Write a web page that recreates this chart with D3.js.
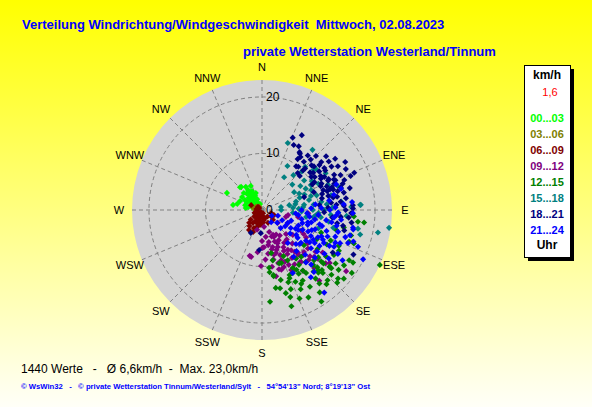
<!DOCTYPE html>
<html lang="de">
<head>
<meta charset="utf-8">
<title>Windrichtung / Windgeschwindigkeit</title>
<script src="https://cdn.jsdelivr.net/npm/d3@7"></script>
<style>
  body { margin: 0; }
  text { font-family: "Liberation Sans", Arial, sans-serif; white-space: pre; }
</style>
</head>
<body>
<div id="chart"></div>
<script>
// Werte: [Richtung in Grad, Geschwindigkeit km/h]
var h00_03 = [[296,6.9],[318,5.5],[325,5.0],[335,4.7],[332,3.8],[313,4.4],[284,4.5],[300,3.5],[320,3.0],[321,2.3],[319,1.6],[315,0.8],[282,2.5],[283,1.6],[303,4.2],[316,5.6],[326,3.8],[323,2.7],[277,2.9],[287,1.8],[323,1.8],[319,3.5],[335,2.9],[298,3.0],[336,2.1],[342,1.1],[286,3.1],[302,2.3],[292,4.2],[280,5.2],[325,4.3],[310,2.6],[330,3.3],[308,1.9],[317,4.0],[295,2.0],[340,3.2],[312,3.2],[314,2.2],[322,2.4],[328,2.0],[305,2.8],[318,3.0],[326,2.8],[312,1.4],[300,1.6],[332,1.4]];
var h03_06 = [[300,1.2],[280,1.5],[260,1.0],[320,0.8],[240,1.3]];
var h06_09 = [[162,0.6],[201,1.5],[215,2.8],[213,4.2],[204,3.5],[169,1.8],[132,2.6],[113,2.3],[155,2.5],[294,2.1],[304,0.6],[108,1.7],[307,0.9],[207,0.4],[202,4.2],[220,1.2],[190,2.0],[230,1.8],[250,1.4],[170,1.2],[240,0.8],[210,2.2],[195,3.0],[225,3.2],[185,1.0],[280,1.0],[140,1.5],[125,2.0],[200,2.5],[215,1.6],[185,2.6],[175,2.2],[205,1.0],[160,1.5],[230,2.6],[218,3.6],[195,1.6]];
var h09_12 = [[173,3.0],[156,4.8],[151,6.1],[168,5.8],[157,7.1],[147,8.4],[141,10.2],[135,10.5],[159,9.5],[154,10.8],[143,11.5],[137,12.1],[131,13.1],[193,8.5],[181,9.9],[162,11.1],[165,8.2],[129,3.6],[106,4.4],[129,7.0],[126,10.0],[130,14.7],[179,6.7],[143,7.1],[162,4.1],[195,8.4],[126,18.4],[170,6.3],[156,5.2],[146,7.0],[162,8.0],[140,9.9],[130,10.6],[132,12.4],[125,13.1],[117,5.1],[101,6.5],[94,8.2],[164,10.9],[159,10.8],[141,16.1],[144,11.4],[177,6.6],[194,3.6],[101,4.7],[150,9.0],[138,8.0],[145,5.5],[160,7.5],[152,12.0],[120,8.5],[135,6.0],[148,10.0],[167,9.0],[155,6.5],[158,6.0],[164,6.8],[150,7.6],[144,8.8],[152,8.2],[158,8.6],[166,7.2],[172,7.8],[176,8.8],[170,10.2],[163,9.8],[156,10.0],[149,11.2],[142,9.4],[137,10.8],[134,11.8],[128,12.0],[122,9.2],[118,7.8],[140,6.8],[150,5.0],[160,5.0],[172,4.8],[180,5.5],[186,7.5],[154,11.8],[146,13.0],[138,13.8],[168,12.0],[128,15.2]];
var h12_15 = [[175,16.3],[164,15.3],[162,16.2],[160,14.9],[154,15.6],[150,14.4],[160,13.6],[170,11.9],[173,11.1],[139,17.4],[147,19.3],[132,18.1],[130,18.9],[125,19.4],[120,18.6],[136,15.5],[130,15.6],[136,14.1],[137,13.3],[160,10.0],[157,12.5],[152,11.6],[146,12.9],[137,14.6],[131,14.4],[173,10.3],[170,11.7],[162,9.9],[153,10.0],[146,11.7],[154,12.4],[138,14.9],[130,16.0],[126,16.1],[118,15.4],[110,17.3],[106,16.4],[97,17.1],[97,18.2],[115,23.0],[120,17.8],[134,18.5],[137,17.0],[130,9.7],[111,11.2],[114,13.3],[105,13.6],[102,14.8],[94,16.3],[110,16.4],[134,12.8],[131,13.9],[168,7.8],[168,9.1],[145,10.5],[140,12.0],[150,13.0],[125,12.0],[118,11.0],[142,16.5],[155,9.0],[150,12.2],[145,13.6],[140,14.2],[135,15.0],[130,13.0],[126,14.0],[122,15.0],[142,15.4],[148,16.0],[155,14.0],[158,13.0],[152,14.8],[133,16.8],[128,17.2],[124,17.5],[118,13.0],[115,15.0],[140,10.8],[165,12.8],[167,14.2],[157,17.0],[145,17.8],[152,17.5],[163,17.8],[170,14.0]];
var h15_18 = [[21,12.7],[40,13.9],[34,7.0],[42,8.3],[55,9.1],[52,11.6],[69,12.5],[87,17.4],[84,14.1],[61,6.5],[81,3.4],[83,7.5],[88,15.8],[78,12.5],[53,12.0],[86,7.3],[80,4.9],[63,9.7],[87,17.5],[101,20.9],[98,22.7],[90,3.4],[94,12.2],[99,7.9],[101,17.3],[97,10.5],[120,15.5],[104,17.9],[70,8.0],[75,10.0],[65,11.0],[90,9.0],[80,6.0],[95,5.5],[60,13.0],[72,14.0],[85,11.5],[92,13.5],[66,7.2],[72,7.0],[78,8.5],[84,9.2],[88,6.5],[76,6.2],[68,9.4],[58,8.0],[50,7.0],[46,9.8],[60,10.2],[82,10.6],[88,12.5],[93,10.0],[98,9.2],[86,5.5],[74,9.0],[64,8.6],[45,10.8],[30,9.0],[92,7.0],[96,9.5],[90,11.0],[100,12.0],[104,13.0],[108,10.5],[94,15.0]];
var h18_21 = [[23,13.9],[26,12.8],[33,12.2],[36,11.6],[51,13.5],[54,14.6],[52,12.9],[68,17.6],[41,11.3],[46,10.1],[44,9.1],[56,10.5],[71,9.7],[72,11.4],[74,13.1],[74,14.5],[84,12.3],[87,14.5],[89,16.1],[95,15.4],[88,11.7],[73,7.8],[56,13.3],[46,10.6],[54,11.2],[87,16.1],[101,14.6],[121,14.6],[184,7.1],[206,4.5],[183,4.1],[116,18.0],[60,12.0],[65,13.0],[62,10.5],[68,14.0],[58,14.5],[75,11.0],[78,12.0],[80,13.5],[70,15.5],[48,9.0],[40,10.0],[35,11.0],[30,13.0],[45,13.5],[50,12.0],[66,11.5],[72,13.0],[82,15.0],[76,16.0],[64,16.5],[92,11.0],[95,14.0],[60,17.0],[28,15.0],[62,12.5],[66,12.8],[70,12.2],[74,12.0],[68,11.2],[64,14.2],[70,13.6],[76,13.8],[78,14.8],[72,15.0],[66,15.2],[60,15.5],[56,12.2],[58,11.0],[52,10.8],[48,11.8],[44,12.4],[40,12.6],[38,9.8],[34,12.0],[62,11.8],[67,13.8],[73,12.6],[80,12.8],[84,14.0],[86,13.2],[90,14.8],[92,15.8],[69,16.8],[55,15.8],[50,14.8],[58,13.2],[63,10.0],[85,10.2],[79,10.8],[96,12.5],[98,16.0],[100,13.5],[104,15.0]];
var h21_24 = [[143,2.7],[134,4.6],[117,5.1],[119,7.3],[105,8.4],[116,11.0],[118,12.4],[117,14.3],[111,16.3],[101,16.4],[97,14.1],[140,12.1],[144,14.7],[154,12.4],[116,19.9],[92,16.1],[130,9.0],[142,7.4],[143,18.3],[140,14.3],[71,13.9],[109,17.1],[88,8.7],[110,10.0],[115,9.0],[120,10.5],[105,11.0],[112,12.5],[125,9.5],[100,9.5],[108,7.5],[122,12.0],[128,11.0],[118,13.5],[106,14.0],[100,12.5],[95,10.0],[113,15.0],[125,13.5],[132,9.0],[130,6.5],[122,6.0],[110,5.5],[98,6.5],[116,8.0],[104,9.0],[128,8.0],[136,11.0],[120,15.5],[108,15.5],[102,16.5],[120,2.0],[130,3.5],[110,3.0],[112,9.5],[118,9.8],[124,10.2],[114,11.5],[108,12.0],[104,10.5],[99,11.5],[96,12.8],[102,13.5],[110,13.8],[116,12.0],[122,11.0],[127,12.2],[132,12.6],[126,14.6],[114,14.2],[108,8.5],[113,7.0],[119,6.8],[126,7.5],[135,8.5],[140,9.5],[117,4.0],[125,5.0],[103,7.2],[98,8.5],[94,13.2],[106,16.2],[111,18.2],[122,16.8],[146,10.0],[138,13.0],[88,10.5],[90,12.0],[92,13.5],[86,14.5],[84,9.5],[90,7.0],[94,8.0],[96,6.0],[88,13.0],[82,12.0],[78,13.0],[75,14.5],[85,16.0]];

var series = [h00_03, h03_06, h06_09, h09_12, h12_15, h15_18, h18_21, h21_24];
var legendLabels = ["00...03","03...06","06...09","09...12","12...15","15...18","18...21","21...24"];
var seriesColors = ["#00ff00","#808000","#800000","#800080","#008000","#008080","#000080","#0000ff"];
var dirLabels = ["N","NNE","NE","ENE","E","ESE","SE","SSE","S","SSW","SW","WSW","W","WNW","NW","NNW"];
var ringValues = [10, 20];
var ringLabels = [0, 10, 20];
var maxSpeed = 23.0;

var width = 592, height = 407;
var cx = 262, cy = 210, radius = 130;

var svg = d3.select("#chart").append("svg")
    .attr("width", width)
    .attr("height", height);

// Hintergrund: gelb nach fast weiss
var grad = svg.append("defs").append("linearGradient")
    .attr("id", "bg").attr("x1", 0).attr("y1", 0).attr("x2", 0).attr("y2", 1);
grad.append("stop").attr("offset", "0%").attr("stop-color", "#ffff00");
grad.append("stop").attr("offset", "100%").attr("stop-color", "#fffff8");
svg.append("rect").attr("width", width).attr("height", height).attr("fill", "url(#bg)");

// Titel
svg.append("text")
    .attr("x", 22).attr("y", 29)
    .attr("font-size", 13).attr("font-weight", "bold").attr("fill", "#0000ff")
    .text("Verteilung Windrichtung/Windgeschwindigkeit  Mittwoch, 02.08.2023");
svg.append("text")
    .attr("x", 243).attr("y", 56)
    .attr("font-size", 13).attr("font-weight", "bold").attr("fill", "#0000ff")
    .text("private Wetterstation Westerland/Tinnum");

var r = d3.scaleLinear().domain([0, maxSpeed]).range([0, radius]);
var angle = d3.scaleLinear().domain([0, 360]).range([0, 2 * Math.PI]);

var g = svg.append("g").attr("transform", "translate(" + cx + "," + cy + ")");

g.append("circle").attr("r", radius).attr("fill", "#d4d4d4");

// Gitter
g.selectAll(".ring")
    .data(ringValues)
    .join("circle")
    .attr("class", "ring")
    .attr("r", d => r(d))
    .attr("fill", "none")
    .attr("stroke", "#808080")
    .attr("stroke-dasharray", "4,3");

g.selectAll(".spoke")
    .data(dirLabels)
    .join("line")
    .attr("class", "spoke")
    .attr("x1", 0).attr("y1", 0)
    .attr("x2", (d, i) => radius * Math.sin(angle(i * 22.5)))
    .attr("y2", (d, i) => -radius * Math.cos(angle(i * 22.5)))
    .attr("stroke", "#808080")
    .attr("stroke-dasharray", "4,3");

// Messpunkte
var diamond = d3.symbol().type(d3.symbolDiamond2).size(24);
series.forEach(function(data, k) {
    g.append("g").selectAll("path")
        .data(data)
        .join("path")
        .attr("d", diamond)
        .attr("transform", d => "translate(" + (r(d[1]) * Math.sin(angle(d[0]))) + "," + (-r(d[1]) * Math.cos(angle(d[0]))) + ")")
        .attr("fill", seriesColors[k]);
});

g.selectAll(".rlabel")
    .data(ringLabels)
    .join("text")
    .attr("class", "rlabel")
    .attr("x", 4)
    .attr("y", d => -r(d) + 4)
    .attr("font-size", 12)
    .attr("fill", "#000")
    .text(d => d);

g.selectAll(".dlabel")
    .data(dirLabels)
    .join("text")
    .attr("class", "dlabel")
    .attr("x", (d, i) => 143 * Math.sin(angle(i * 22.5)))
    .attr("y", (d, i) => -143 * Math.cos(angle(i * 22.5)))
    .attr("dy", "0.35em")
    .attr("text-anchor", "middle")
    .attr("font-size", 11)
    .attr("fill", "#000")
    .text(d => d);

// Legende
svg.append("rect").attr("x", 528).attr("y", 69).attr("width", 46).attr("height", 192).attr("fill", "#000");
svg.append("rect").attr("x", 524.5).attr("y", 65.5).attr("width", 46).attr("height", 192)
    .attr("fill", "#fff").attr("stroke", "#000");
svg.append("text").attr("x", 547).attr("y", 79).attr("text-anchor", "middle")
    .attr("font-size", 12).attr("font-weight", "bold").text("km/h");
svg.append("text").attr("x", 550).attr("y", 96).attr("text-anchor", "middle")
    .attr("font-size", 11).attr("fill", "#ff0000").text("1,6");
svg.selectAll(".leg")
    .data(legendLabels)
    .join("text")
    .attr("class", "leg")
    .attr("x", 547)
    .attr("y", (d, i) => 122 + i * 16)
    .attr("text-anchor", "middle")
    .attr("font-size", 11).attr("font-weight", "bold")
    .attr("fill", (d, i) => seriesColors[i])
    .text(d => d);
svg.append("text").attr("x", 547).attr("y", 249).attr("text-anchor", "middle")
    .attr("font-size", 12).attr("font-weight", "bold").text("Uhr");

// Fusszeilen
svg.append("text").attr("x", 21).attr("y", 373)
    .attr("font-size", 12).attr("fill", "#000")
    .text("1440 Werte   -   Ø 6,6km/h  -  Max. 23,0km/h");
svg.append("text").attr("x", 21).attr("y", 389)
    .attr("font-size", 8).attr("font-weight", "bold").attr("fill", "#0000ff")
    .attr("textLength", 349).attr("lengthAdjust", "spacingAndGlyphs")
    .text("© WsWin32   -   © private Wetterstation Tinnum/Westerland/Sylt   -   54°54'13\" Nord; 8°19'13\" Ost");
</script>
</body>
</html>
